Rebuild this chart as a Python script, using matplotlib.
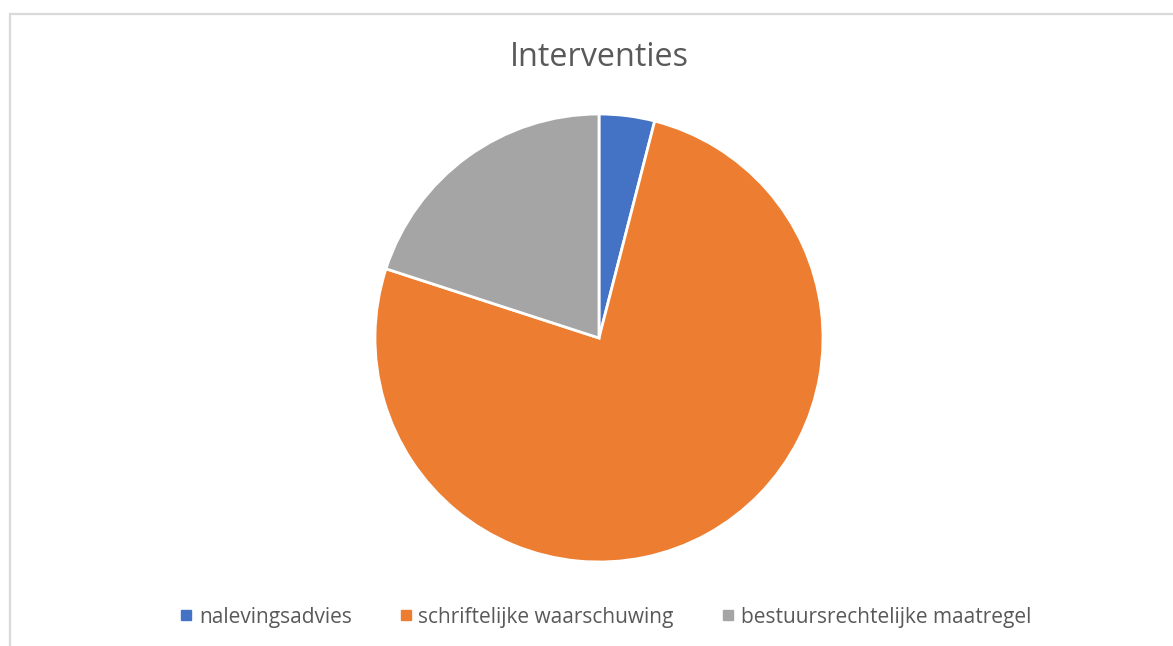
import matplotlib
matplotlib.use("Agg")
import matplotlib.pyplot as plt
from matplotlib.lines import Line2D
from matplotlib.patches import Rectangle

labels = ["nalevingsadvies", "schriftelijke waarschuwing", "bestuursrechtelijke maatregel"]
values = [4, 76, 20]
colors = ["#4472c4", "#ed7d31", "#a5a5a5"]

W, H = 1173, 646
fig = plt.figure(figsize=(W / 100, H / 100), dpi=100)
plt.rcParams["font.family"] = ["Open Sans", "DejaVu Sans"]

# chart area border (light grey, cut off at right/bottom)
fig.add_artist(Rectangle((10 / W, -0.1), 1.2, 1 - 14 / H + 0.1, transform=fig.transFigure,
                         fill=False, edgecolor="#d9d9d9", lw=1.6))

# pie
cx, cy, r = 599, 338, 224
ax = fig.add_axes([(cx - r) / W, (H - cy - r) / H, 2 * r / W, 2 * r / H])
ax.pie(values, colors=colors, startangle=90, counterclock=False, radius=1,
       wedgeprops=dict(edgecolor="white", linewidth=2))
ax.set_xlim(-1, 1); ax.set_ylim(-1, 1)
ax.set_aspect("equal")
ax.axis("off")

fig.text(cx / W, 1 - 58 / H, "Interventies", ha="center", va="center",
         fontsize=23.3, color="#595959")

handles = [Line2D([], [], marker="s", ls="", color=c, markersize=6.5) for c in colors]
fig.legend(handles, labels, loc="center", bbox_to_anchor=(604.5 / W, 1 - 617 / H), ncol=3,
           frameon=False, fontsize=15, labelcolor="#595959", handlelength=0.8,
           handletextpad=0.2, columnspacing=2.2)

fig.savefig("out.png", dpi=100)
